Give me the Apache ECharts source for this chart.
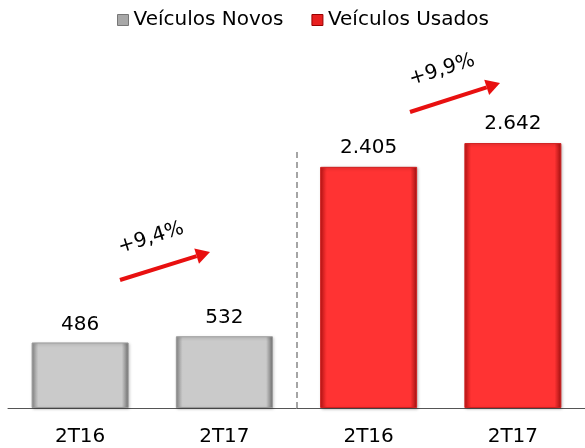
<!DOCTYPE html>
<html>
<head>
<meta charset="utf-8">
<script src="https://cdn.jsdelivr.net/npm/echarts@6/dist/echarts.min.js"></script>
<style>
  html, body { margin: 0; padding: 0; background: #fff; }
  #chart { width: 585px; height: 448px; }
</style>
</head>
<body>
<div id="chart"></div>
<script>
const categories = ['2T16', '2T17', '2T16', '2T17']
const novos = [486, 532, '-', '-']
const usados = ['-', '-', 2405, 2642]
const growth = ['+9,4%', '+9,9%']

const font = 'Verdana, "DejaVu Sans", sans-serif'
const fmt = p => String(p.value).replace(/\B(?=(\d{3})+(?!\d))/g, '.')

const bevel = (edge, face, dark) => new echarts.graphic.LinearGradient(0, 0, 1, 0, [
  { offset: 0, color: edge },
  { offset: 0.07, color: face },
  { offset: 0.93, color: face },
  { offset: 1, color: dark }
])

const arrow = (x1, y1, x2, y2) => {
  const len = Math.hypot(x2 - x1, y2 - y1)
  const ux = (x2 - x1) / len, uy = (y2 - y1) / len
  const bx = x2 - ux * 14, by = y2 - uy * 14
  const nx = -uy, ny = ux
  return [
    { type: 'line', shape: { x1, y1, x2: bx, y2: by }, style: { stroke: '#e81010', lineWidth: 4 } },
    { type: 'polygon', shape: { points: [[x2, y2], [bx + nx * 8, by + ny * 8], [bx - nx * 8, by - ny * 8]] }, style: { fill: '#e81010' } }
  ]
}

const label = (text, x, y) => ({
  type: 'text', x, y, rotation: 0.3,
  style: { text, font: '20px ' + font, fill: '#000', textAlign: 'center', textVerticalAlign: 'middle' }
})

const chart = echarts.init(document.getElementById('chart'))
chart.setOption({
  animation: false,
  legend: {
    top: 5,
    left: 112,
    itemGap: 28,
    itemWidth: 11,
    itemHeight: 11,
    icon: 'rect',
    textStyle: { fontFamily: font, fontSize: 20, color: '#000' },
    data: [
      { name: 'Veículos Novos', itemStyle: { color: '#a8a8a8', borderColor: '#777', borderWidth: 1 } },
      { name: 'Veículos Usados', itemStyle: { color: '#e82020', borderColor: '#900', borderWidth: 1 } }
    ]
  },
  grid: { top: 48, bottom: 40, left: 8, width: 583 },
  xAxis: {
    type: 'category',
    data: categories,
    axisLine: { lineStyle: { color: '#555', width: 1 } },
    axisTick: { show: false },
    axisLabel: { fontFamily: font, fontSize: 20, color: '#000', margin: 19 }
  },
  yAxis: [
    { type: 'value', min: 0, max: 2670, show: false },
    { type: 'value', min: 0, max: 3590, show: false }
  ],
  series: [
    {
      name: 'Veículos Novos',
      type: 'bar',
      yAxisIndex: 0,
      barWidth: 97,
      barGap: '-100%',
      data: novos,
      itemStyle: { color: bevel('#8a8a8a', '#cacaca', '#6e6e6e'), borderColor: '#9a9a9a', borderWidth: 1, shadowColor: 'rgba(0,0,0,0.25)', shadowBlur: 3, shadowOffsetX: 1, shadowOffsetY: 1 },
      label: { show: true, position: 'top', distance: 8, fontFamily: font, fontSize: 20, color: '#000', formatter: fmt }
    },
    {
      name: 'Veículos Usados',
      type: 'bar',
      yAxisIndex: 1,
      barWidth: 97,
      barGap: '-100%',
      data: usados,
      itemStyle: { color: bevel('#c01515', '#ff3333', '#a01010'), borderColor: '#d02020', borderWidth: 1, shadowColor: 'rgba(0,0,0,0.25)', shadowBlur: 3, shadowOffsetX: 1, shadowOffsetY: 1 },
      label: { show: true, position: 'top', distance: 9, fontFamily: font, fontSize: 20, color: '#000', formatter: fmt }
    }
  ]
})

// separator between the two groups, placed from the axis scale
const xa = chart.convertToPixel({ xAxisIndex: 0 }, 1)
const xb = chart.convertToPixel({ xAxisIndex: 0 }, 2)
const sepX = Math.round((xa + xb) / 2)
const yBase = chart.convertToPixel({ yAxisIndex: 1 }, 0)

chart.setOption({
  graphic: [
    { type: 'line', shape: { x1: sepX, y1: 152, x2: sepX, y2: yBase }, style: { stroke: '#888', lineWidth: 1.5, lineDash: [6, 4] } },
    ...arrow(120, 280, 210, 252),
    label(growth[0], 151, 238),
    ...arrow(410, 112, 500, 83),
    label(growth[1], 442, 70)
  ]
})
</script>
</body>
</html>
